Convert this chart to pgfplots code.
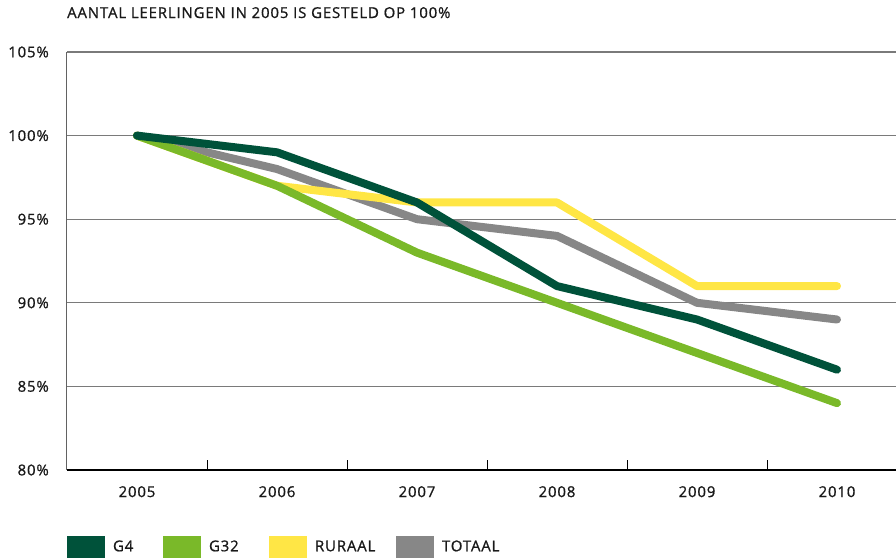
\documentclass[border=0pt]{standalone}
\usepackage{pgfplots}
\pgfplotsset{compat=1.18}
\usepackage{fontspec}
\setmainfont[LetterSpace=5.5, FakeBold=0.9]{Open Sans}

\definecolor{gfour}{HTML}{00523A}
\definecolor{gthirtytwo}{HTML}{7AB929}
\definecolor{ruraal}{HTML}{FFE645}
\definecolor{totaal}{HTML}{878787}
\definecolor{gridgray}{HTML}{7A7A7A}

\begin{document}
\fontsize{15bp}{18bp}\selectfont
\begin{tikzpicture}[x=1bp,y=1bp]
\begin{axis}[
  at={(0,0)}, anchor=south west,
  scale only axis,
  width=829bp, height=418bp,
  xmin=2004.5, xmax=2010.4214,
  ymin=80, ymax=105,
  axis x line*=bottom,
  axis y line*=left,
  x axis line style={draw=black, line width=1.3bp, -},
  y axis line style={draw=gridgray!80!black, line width=1bp, -},
  xtick={2005,2006,2007,2008,2009,2010},
  xticklabels={2005,2006,2007,2008,2009,2010},
  minor xtick={2005.5,2006.5,2007.5,2008.5,2009.5},
  major tick length=0pt,
  minor tick length=10bp,
  tick align=inside,
  minor tick style={draw=black, line width=1bp},
  ytick={80,85,90,95,100,105},
  yticklabel={\pgfmathprintnumber{\tick}\%},
  ymajorgrids,
  grid style={draw=gridgray, line width=1.3bp},
  /pgf/number format/assume math mode=true,
  /pgf/number format/1000 sep={},
  tick label style={font=\fontsize{15bp}{18bp}\selectfont, text=black!90},
  yticklabel style={anchor=east, xshift=-13bp},
  xticklabel style={anchor=north, yshift=-11bp},
  clip=false,
  title={AANTAL LEERLINGEN IN 2005 IS GESTELD OP 100\%},
  title style={at={(axis description cs:0,1)}, anchor=base west, yshift=28bp,
    font=\fontsize{15bp}{18bp}\selectfont, text=black!90, inner sep=0pt},
  every axis plot/.append style={line width=8bp, line cap=round, line join=round},
]
\addplot[totaal] coordinates {(2005,100) (2006,98) (2007,95) (2008,94) (2009,90) (2010,89)};
\addplot[ruraal] coordinates {(2005,100) (2006,97) (2007,96) (2008,96) (2009,91) (2010,91)};
\addplot[gthirtytwo] coordinates {(2005,100) (2006,97) (2007,93) (2008,90) (2009,87) (2010,84)};
\addplot[gfour] coordinates {(2005,100) (2006,99) (2007,96) (2008,91) (2009,89) (2010,86)};
\end{axis}
% legend row below the plot, in series order G4, G32, RURAAL, TOTAAL
\begin{axis}[
  at={(0,0)}, anchor=south west,
  scale only axis, width=829bp, height=418bp,
  hide axis, xmin=0, xmax=1, ymin=0, ymax=1,
  legend columns=4,
  legend style={at={(axis description cs:0,0)}, anchor=north west,
    yshift=-66bp, draw=none, fill=none, inner sep=0pt, outer sep=0pt,
    font=\fontsize{15bp}{18bp}\selectfont, text=black!90,
    nodes={inner sep=0pt},
    /tikz/every odd column/.append style={column sep=8bp}},
  legend cell align=left,
  legend image code/.code={\fill[draw=none] (0bp,-11bp) rectangle (38bp,11bp);},
]
\addlegendimage{gfour, fill=gfour}
\addlegendentry{\makebox[50bp][l]{G4}}
\addlegendimage{gthirtytwo, fill=gthirtytwo}
\addlegendentry{\makebox[60bp][l]{G32}}
\addlegendimage{ruraal, fill=ruraal}
\addlegendentry{\makebox[81bp][l]{RURAAL}}
\addlegendimage{totaal, fill=totaal}
\addlegendentry{TOTAAL}
\end{axis}
\pgfresetboundingbox
\path (-67bp,-88bp) rectangle (829bp,470bp);
\end{tikzpicture}
\end{document}
